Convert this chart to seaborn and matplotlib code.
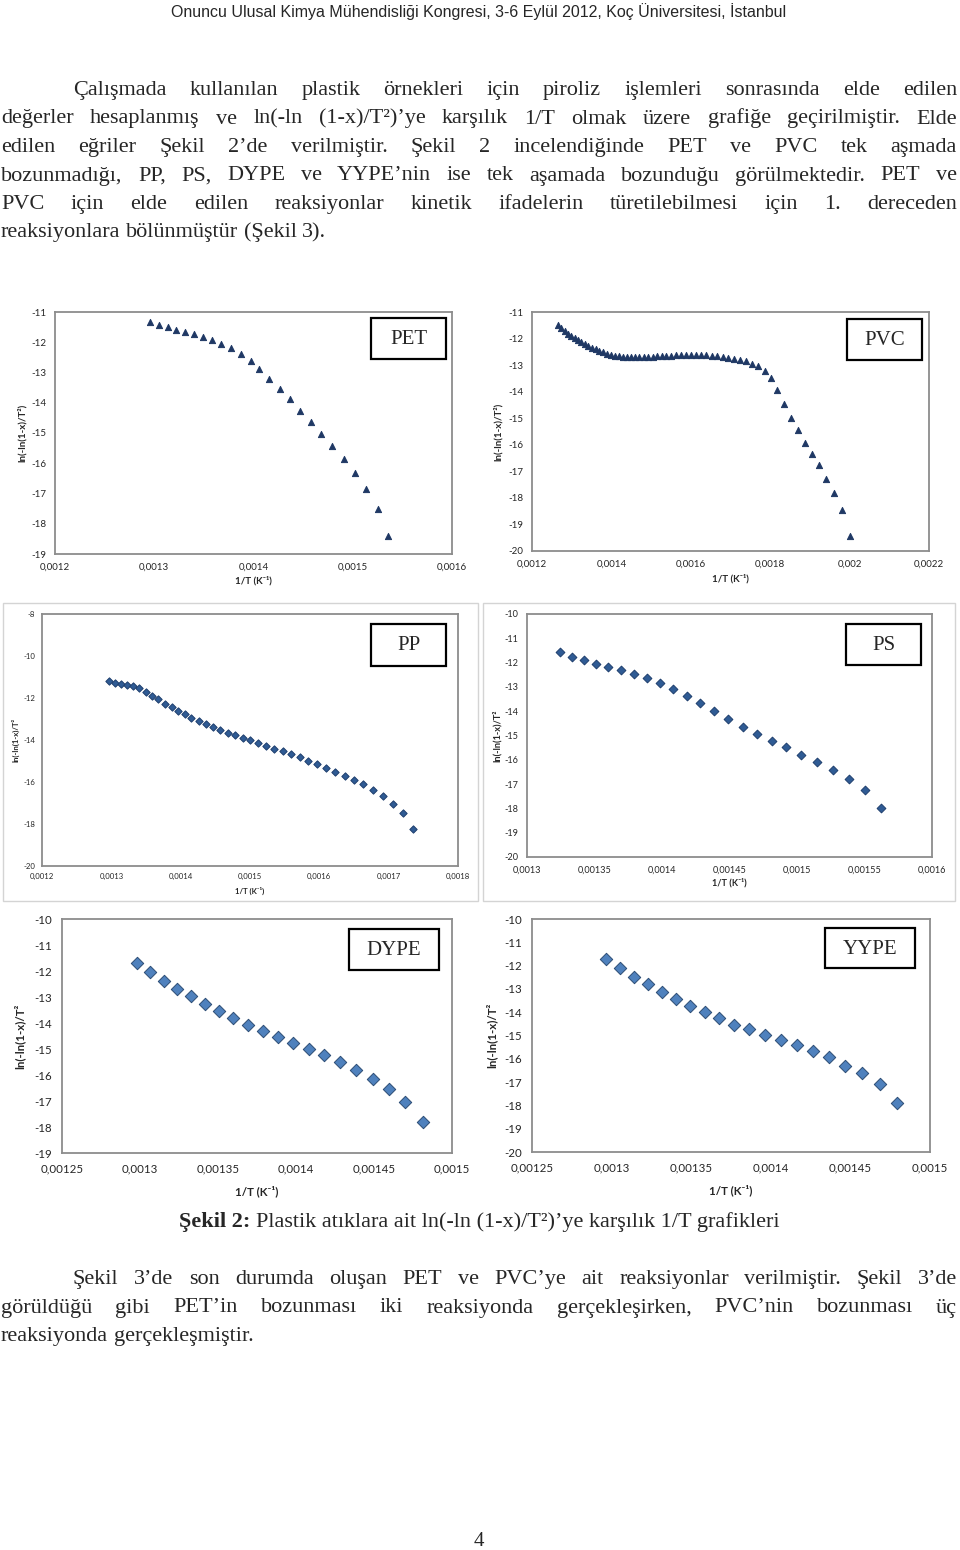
import matplotlib
matplotlib.use("Agg")
import numpy as np
import matplotlib.pyplot as plt
import seaborn as sns
from matplotlib.ticker import FuncFormatter
from matplotlib.patches import Rectangle

W, H = 960, 1550

# --- data read from the page (1/T in K^-1, ln(-ln(1-x)/T^2)) ---
pet_x = [0.001296, 0.001305, 0.001314, 0.001322, 0.001331, 0.001340, 0.001349, 0.001358,
         0.001367, 0.001377, 0.001387, 0.001397, 0.001406, 0.001416, 0.001427, 0.001437,
         0.001447, 0.001458, 0.001468, 0.001479, 0.001491, 0.001502, 0.001513, 0.001525,
         0.001536]
pet_y = [-11.33, -11.44, -11.51, -11.58, -11.66, -11.74, -11.83, -11.94, -12.06, -12.20,
         -12.38, -12.61, -12.89, -13.21, -13.54, -13.89, -14.27, -14.64, -15.04, -15.43,
         -15.86, -16.32, -16.85, -17.50, -18.42]

pvc_x = [0.0012658, 0.0012739, 0.0012821, 0.0012903, 0.0012987, 0.0013072, 0.0013158, 0.0013245,
         0.0013333, 0.0013423, 0.0013514, 0.0013605, 0.0013699, 0.0013793, 0.0013889, 0.0013986,
         0.0014085, 0.0014184, 0.0014286, 0.0014388, 0.0014493, 0.0014599, 0.0014706, 0.0014815,
         0.0014925, 0.0015038, 0.0015152, 0.0015267, 0.0015385, 0.0015504, 0.0015625, 0.0015748,
         0.0015873, 0.0016000, 0.0016129, 0.0016260, 0.0016393, 0.0016529, 0.0016667, 0.0016807,
         0.0016949, 0.0017094, 0.0017241, 0.0017391, 0.0017544, 0.0017699, 0.0017857, 0.0018018,
         0.0018182, 0.0018349, 0.0018519, 0.0018692, 0.0018868, 0.0019048, 0.0019231, 0.0019417,
         0.0019608, 0.0019802, 0.0020000]
pvc_y = [-11.50, -11.62, -11.72, -11.81, -11.90, -11.98, -12.06, -12.14, -12.21, -12.28,
         -12.35, -12.41, -12.47, -12.52, -12.57, -12.61, -12.64, -12.67, -12.69, -12.70,
         -12.70, -12.71, -12.70, -12.70, -12.69, -12.68, -12.67, -12.66, -12.65, -12.64,
         -12.63, -12.62, -12.62, -12.61, -12.61, -12.62, -12.63, -12.65, -12.67, -12.70,
         -12.73, -12.77, -12.81, -12.86, -12.95, -13.05, -13.22, -13.50, -13.93, -14.45,
         -14.98, -15.46, -15.92, -16.33, -16.76, -17.28, -17.80, -18.45, -19.45]

pp_x = [0.0012960, 0.0013047, 0.0013138, 0.0013224, 0.0013311, 0.0013402, 0.0013493, 0.0013584,
        0.0013675, 0.0013771, 0.0013868, 0.0013963, 0.0014060, 0.0014156, 0.0014261, 0.0014362,
        0.0014468, 0.0014573, 0.0014679, 0.0014780, 0.0014895, 0.0015005, 0.0015120, 0.0015236,
        0.0015351, 0.0015471, 0.0015591, 0.0015716, 0.0015841, 0.0015970, 0.0016100, 0.0016230,
        0.0016364, 0.0016498, 0.0016633, 0.0016777, 0.0016916, 0.0017060, 0.0017204, 0.0017358]
pp_y = [-11.19, -11.29, -11.35, -11.38, -11.43, -11.52, -11.70, -11.90, -12.06, -12.27,
        -12.44, -12.62, -12.78, -12.94, -13.11, -13.25, -13.40, -13.52, -13.65, -13.76,
        -13.90, -14.02, -14.14, -14.27, -14.41, -14.52, -14.68, -14.83, -14.98, -15.16,
        -15.32, -15.51, -15.70, -15.90, -16.11, -16.38, -16.67, -17.03, -17.49, -18.25]

ps_x = [0.0013242, 0.0013331, 0.0013422, 0.0013514, 0.0013602, 0.0013696, 0.0013793, 0.0013889,
        0.0013983, 0.0014081, 0.0014183, 0.0014284, 0.0014388, 0.0014491, 0.0014598, 0.0014704,
        0.0014812, 0.0014921, 0.0015032, 0.0015148, 0.0015267, 0.0015383, 0.0015501, 0.0015622]
ps_y = [-11.57, -11.77, -11.91, -12.05, -12.18, -12.31, -12.46, -12.64, -12.84, -13.10,
        -13.39, -13.68, -14.00, -14.31, -14.63, -14.93, -15.21, -15.49, -15.80, -16.07,
        -16.40, -16.77, -17.25, -17.99]

dype_x = [0.0012980, 0.0013067, 0.0013151, 0.0013238, 0.0013328, 0.0013419, 0.0013507, 0.0013599,
          0.0013692, 0.0013788, 0.0013884, 0.0013980, 0.0014081, 0.0014181, 0.0014281, 0.0014386,
          0.0014492, 0.0014595, 0.0014701, 0.0014812]
dype_y = [-11.71, -12.05, -12.37, -12.68, -12.97, -13.27, -13.55, -13.81, -14.08, -14.31,
          -14.53, -14.77, -15.00, -15.24, -15.51, -15.82, -16.17, -16.54, -17.05, -17.82]

yype_x = [0.0012966, 0.0013054, 0.0013138, 0.0013226, 0.0013314, 0.0013404, 0.0013494, 0.0013586,
          0.0013677, 0.0013771, 0.0013865, 0.0013962, 0.0014063, 0.0014163, 0.0014262, 0.0014365,
          0.0014469, 0.0014576, 0.0014683, 0.0014790]
yype_y = [-11.73, -12.11, -12.49, -12.79, -13.14, -13.45, -13.75, -14.01, -14.25, -14.53,
          -14.74, -14.97, -15.20, -15.40, -15.66, -15.92, -16.29, -16.60, -17.09, -17.88]

header = "Onuncu Ulusal Kimya Mühendisliği Kongresi, 3-6 Eylül 2012, Koç Üniversitesi, İstanbul"
para1 = [
    "Çalışmada kullanılan plastik örnekleri için piroliz işlemleri sonrasında elde edilen",
    "değerler hesaplanmış ve ln(-ln (1-x)/T²)’ye karşılık 1/T olmak üzere grafiğe geçirilmiştir. Elde",
    "edilen eğriler Şekil 2’de verilmiştir. Şekil 2 incelendiğinde PET ve PVC tek aşmada",
    "bozunmadığı, PP, PS, DYPE ve YYPE’nin ise tek aşamada bozunduğu görülmektedir. PET ve",
    "PVC için elde edilen reaksiyonlar kinetik ifadelerin türetilebilmesi için 1. dereceden",
    "reaksiyonlara bölünmüştür (Şekil 3).",
]
caption_bold = "Şekil 2:"
caption_rest = "Plastik atıklara ait ln(-ln (1-x)/T²)’ye karşılık 1/T grafikleri"
para2 = [
    "Şekil 3’de son durumda oluşan PET ve PVC’ye ait reaksiyonlar verilmiştir. Şekil 3’de",
    "görüldüğü gibi PET’in bozunması iki reaksiyonda gerçekleşirken, PVC’nin bozunması üç",
    "reaksiyonda gerçekleşmiştir.",
]

sns.set_theme(style="white")
plt.rcParams['font.family'] = ['Liberation Serif', 'DejaVu Sans']
plt.rcParams['axes.unicode_minus'] = False

SERIF = ['Liberation Serif', 'DejaVu Serif']
SANS = ['Lato', 'DejaVu Sans']

fig = plt.figure(figsize=(W / 100, H / 100), dpi=100)
fig.patch.set_facecolor('white')
renderer = fig.canvas.get_renderer()


def fx(x):
    return x / W


def fy(y):
    return 1 - y / H


def put_line(text, y, x0, x1, size, just=True):
    words = text.split(' ')
    arts = [fig.text(fx(x0), fy(y), w, fontsize=size, family=SERIF, va='baseline') for w in words]
    widths = [a.get_window_extent(renderer=renderer).width for a in arts]
    gap = size * 1.389 * 0.25
    if just and len(words) > 1:
        gap = (x1 - x0 - sum(widths)) / (len(words) - 1)
    x = x0
    for a, w in zip(arts, widths):
        a.set_x(fx(x))
        x += w + gap


def comma(v, pos):
    s = f"{v:.5f}".rstrip('0').rstrip('.')
    return s.replace('.', ',')


def panel(box, x, y, name, namebox, xticks, yticks, marker, s, face, edge,
          tsize, ylabel, ylab_x, xlab_y):
    l, t, r, b = box
    ax = fig.add_axes([fx(l), fy(b), (r - l) / W, (b - t) / H])
    sns.scatterplot(x=x, y=y, ax=ax, marker=marker, s=s, color=face,
                    edgecolor=edge, linewidth=0.7, zorder=3, legend=False)
    ax.set_xlim(xticks[0], xticks[-1])
    ax.set_ylim(yticks[0], yticks[-1])
    ax.set_xticks(xticks)
    ax.set_yticks(yticks)
    ax.xaxis.set_major_formatter(FuncFormatter(comma))
    ax.yaxis.set_major_formatter(FuncFormatter(lambda v, p: f"{v:.0f}"))
    ax.tick_params(length=0, labelsize=tsize, labelcolor='#262626', pad=tsize * 0.9)
    for lab in ax.get_xticklabels() + ax.get_yticklabels():
        lab.set_family(SANS)
    for sp in ax.spines.values():
        sp.set_color('#8c8c8c')
        sp.set_linewidth(1.3)
    ax.set_xlabel("1/T (K⁻¹)", fontsize=tsize, fontweight='bold', family=SANS, color='#262626')
    ax.set_ylabel(ylabel, fontsize=tsize, fontweight='bold', family=SANS, color='#262626')
    ax.yaxis.set_label_coords((ylab_x - l) / (r - l), 0.5)
    ax.xaxis.set_label_coords(0.5, -(xlab_y - b) / (b - t))
    bx0, by0, bx1, by1 = namebox
    fig.add_artist(Rectangle((fx(bx0), fy(by1)), (bx1 - bx0) / W, (by1 - by0) / H,
                             transform=fig.transFigure, facecolor='white',
                             edgecolor='black', lw=1.6, zorder=5))
    fig.text(fx((bx0 + bx1) / 2), fy((by0 + by1) / 2 + 1), name, fontsize=15,
             family=SERIF, ha='center', va='center', zorder=6)
    return ax


navy = '#1f3864'
mid = '#2f5b94'
light = '#4f81bd'

# Excel chart-area frames around the PP / PS charts
fig.add_artist(Rectangle((fx(3), fy(901)), 475 / W, 298 / H, transform=fig.transFigure,
                         fill=False, edgecolor='#d4d4d4', lw=1.0))
fig.add_artist(Rectangle((fx(483), fy(901)), 472 / W, 298 / H, transform=fig.transFigure,
                         fill=False, edgecolor='#d4d4d4', lw=1.0))

panel((55, 312, 452, 554), pet_x, pet_y, "PET", (371, 318, 446, 359),
      np.linspace(0.0012, 0.0016, 5), np.linspace(-19, -11, 9),
      '^', 20, navy, navy, 7, "ln(-ln(1-x)/T²)", 27, 576)
panel((532, 312, 929, 551), pvc_x, pvc_y, "PVC", (847, 319, 922, 360),
      np.linspace(0.0012, 0.0022, 6), np.linspace(-20, -11, 10),
      '^', 20, navy, navy, 7, "ln(-ln(1-x)/T²)", 503, 574)
panel((42, 614, 458, 866), pp_x, pp_y, "PP", (371, 624, 446, 666),
      np.linspace(0.0012, 0.0018, 7), np.linspace(-20, -8, 7),
      'D', 14, mid, '#1f3f6e', 5.6, "ln(-ln(1-x)/T²", 20, 887)
panel((527, 614, 932, 857), ps_x, ps_y, "PS", (846, 624, 921, 665),
      np.linspace(0.0013, 0.0016, 7), np.linspace(-20, -10, 11),
      'D', 20, mid, '#1f3f6e', 6.6, "ln(-ln(1-x)/T²", 502, 878)
panel((62, 919, 452, 1153), dype_x, dype_y, "DYPE", (349, 929, 439, 970),
      np.linspace(0.00125, 0.0015, 6), np.linspace(-19, -10, 10),
      'D', 40, light, '#2c4d75', 8.3, "ln(-ln(1-x)/T²", 25, 1185)
panel((532, 919, 930, 1152), yype_x, yype_y, "YYPE", (825, 928, 915, 968),
      np.linspace(0.00125, 0.0015, 6), np.linspace(-20, -10, 11),
      'D', 40, light, '#2c4d75', 8.3, "ln(-ln(1-x)/T²", 497, 1184)

# page text
fig.text(fx(479), fy(17), header, fontsize=11.5,
         family=['Liberation Sans Narrow', 'Liberation Sans', 'DejaVu Sans'],
         ha='center', va='baseline')

BODY = 16
base1 = 95
for i, line in enumerate(para1):
    x0 = 73 if i == 0 else 1
    put_line(line, base1 + i * 28.5, x0, 957, BODY, just=(i < len(para1) - 1))

cb = fig.text(0, fy(1227), caption_bold, fontsize=BODY, family=SERIF, fontweight='bold', va='baseline')
cr = fig.text(0, fy(1227), caption_rest, fontsize=BODY, family=SERIF, va='baseline')
wb = cb.get_window_extent(renderer=renderer).width
wr = cr.get_window_extent(renderer=renderer).width
sp = BODY * 1.389 * 0.25
cx0 = 479 - (wb + sp + wr) / 2
cb.set_x(fx(cx0))
cr.set_x(fx(cx0 + wb + sp))

base2 = 1284
for i, line in enumerate(para2):
    x0 = 73 if i == 0 else 1
    put_line(line, base2 + i * 28.5, x0, 957, BODY, just=(i < len(para2) - 1))

fig.text(fx(479), fy(1546), "4", fontsize=15, family=SERIF, ha='center', va='baseline')

fig.savefig("out.png", dpi=100, facecolor='white')
